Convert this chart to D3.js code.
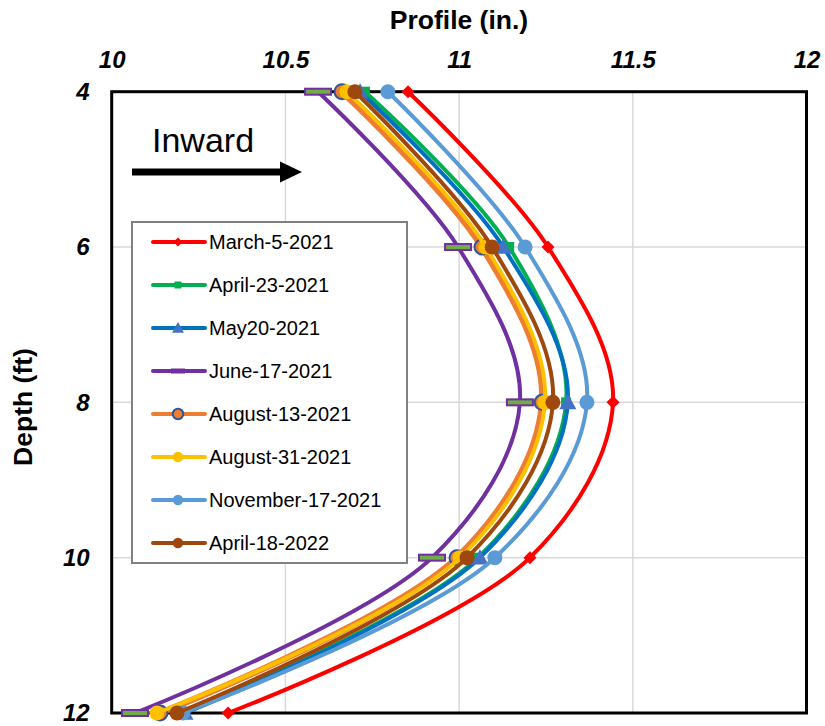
<!DOCTYPE html>
<html><head><meta charset="utf-8">
<script src="https://cdn.jsdelivr.net/npm/d3@7"></script>
<style>body{margin:0;background:#fff;} svg{display:block;}</style>
</head><body>
<svg id="c" width="825" height="726"></svg>
<script>
const depths = [4, 6, 8, 10, 12];
const seriesNames = ["March-5-2021","April-23-2021","May20-2021","June-17-2021","August-13-2021","August-31-2021","November-17-2021","April-18-2022"];
const march5 = [10.853, 11.256, 11.443, 11.204, 10.335];
const april23 = [10.729, 11.144, 11.308, 11.054, 10.202];
const may20 = [10.715, 11.127, 11.313, 11.060, 10.211];
const june17 = [10.594, 10.997, 11.175, 10.922, 10.067];
const aug13 = [10.663, 11.066, 11.239, 10.994, 10.139];
const aug31 = [10.677, 11.077, 11.247, 11.003, 10.130];
const nov17 = [10.795, 11.190, 11.368, 11.103, 10.205];
const april18 = [10.700, 11.095, 11.270, 11.023, 10.188];
const xTicks = [10, 10.5, 11, 11.5, 12];
const yTicks = [4, 6, 8, 10, 12];

const values = [march5, april23, may20, june17, aug13, aug31, nov17, april18];
const styles = [
  {line:"#FF0000", w:4, marker:"diamond", fill:"#FF0000", stroke:"none"},
  {line:"#00B050", w:4, marker:"square", fill:"#00B050", stroke:"none"},
  {line:"#0070C0", w:4, marker:"triangle", fill:"#4472C4", stroke:"none"},
  {line:"#7030A0", w:4, marker:"dash", fill:"#70AD47", stroke:"#7030A0"},
  {line:"#ED7D31", w:6.5, marker:"circle", fill:"#ED7D31", stroke:"#2F5597"},
  {line:"#FFC000", w:4, marker:"circle", fill:"#FFC000", stroke:"none"},
  {line:"#5B9BD5", w:4, marker:"circle", fill:"#5B9BD5", stroke:"none"},
  {line:"#9E480E", w:4, marker:"circle", fill:"#9E480E", stroke:"none"}
];

const svg = d3.select("#c");
const L = 111.7, R = 806.5, T = 91.7, B = 713;
const x = d3.scaleLinear().domain([10, 12]).range([L, R]);
const y = d3.scaleLinear().domain([4, 12]).range([T, B]);
const font = "'Liberation Sans', Arial, Helvetica, sans-serif";

// gridlines
svg.append("g").selectAll("line").data(xTicks.slice(1, -1)).join("line")
  .attr("x1", d => x(d)).attr("x2", d => x(d)).attr("y1", T).attr("y2", B)
  .attr("stroke", "#d9d9d9").attr("stroke-width", 1.5);
svg.append("g").selectAll("line").data(yTicks.slice(1, -1)).join("line")
  .attr("y1", d => y(d)).attr("y2", d => y(d)).attr("x1", L).attr("x2", R)
  .attr("stroke", "#d9d9d9").attr("stroke-width", 1.5);

// frame
svg.append("rect").attr("x", L).attr("y", T).attr("width", R - L).attr("height", B - T)
  .attr("fill", "none").attr("stroke", "#000").attr("stroke-width", 3);

// axes tick labels (d3 axes, domain hidden)
const xAxis = svg.append("g").attr("transform", `translate(0,${T})`)
  .call(d3.axisTop(x).tickValues(xTicks).tickSize(0).tickPadding(24).tickFormat(d3.format("")));
const yAxis = svg.append("g").attr("transform", `translate(${L},0)`)
  .call(d3.axisLeft(y).tickValues(yTicks).tickSize(0).tickPadding(22).tickFormat(d3.format("")));
[xAxis, yAxis].forEach(a => {
  a.select(".domain").remove();
  a.selectAll("text").attr("font-family", font).attr("font-size", 24)
    .attr("font-weight", "bold").attr("font-style", "italic").attr("fill", "#000");
});

// titles
svg.append("text").attr("x", 459).attr("y", 29).attr("text-anchor", "middle")
  .attr("font-family", font).attr("font-size", 26.5).attr("font-weight", "bold").text("Profile (in.)");
svg.append("text").attr("transform", "translate(32,407) rotate(-90)").attr("text-anchor", "middle")
  .attr("font-family", font).attr("font-size", 26.5).attr("font-weight", "bold").text("Depth (ft)");

// Inward arrow
svg.append("text").attr("x", 152).attr("y", 152).attr("font-family", font).attr("font-size", 34).text("Inward");
svg.append("line").attr("x1", 132).attr("x2", 282).attr("y1", 172).attr("y2", 172)
  .attr("stroke", "#000").attr("stroke-width", 7);
svg.append("path").attr("d", "M280,161.5 L302,172 L280,182.5 Z").attr("fill", "#000");

function drawMarker(g, s, cx, cy, scale) {
  const k = scale;
  if (s.marker === "diamond") {
    const r = 6.5 * k;
    g.append("path").attr("d", `M${cx},${cy - r}L${cx + r},${cy}L${cx},${cy + r}L${cx - r},${cy}Z`).attr("fill", s.fill);
  } else if (s.marker === "square") {
    const r = 5 * k;
    g.append("rect").attr("x", cx - r).attr("y", cy - r).attr("width", 2 * r).attr("height", 2 * r).attr("fill", s.fill);
  } else if (s.marker === "triangle") {
    const r = 8.5 * k;
    g.append("path").attr("d", `M${cx},${cy - r}L${cx + r},${cy + r * 0.8}L${cx - r},${cy + r * 0.8}Z`).attr("fill", s.fill);
  } else if (s.marker === "dash") {
    const w = 26 * k, h = 6 * k;
    g.append("rect").attr("x", cx - w / 2).attr("y", cy - h / 2).attr("width", w).attr("height", h)
      .attr("fill", s.fill).attr("stroke", s.stroke).attr("stroke-width", 2 * k);
  } else {
    g.append("circle").attr("cx", cx).attr("cy", cy).attr("r", 7.5 * k).attr("fill", s.fill)
      .attr("stroke", s.stroke).attr("stroke-width", s.stroke === "none" ? 0 : 2);
  }
}

const line = d3.line().x(d => x(d[0])).y(d => y(d[1])).curve(d3.curveCatmullRom.alpha(0.5));
values.forEach((vals, i) => {
  const s = styles[i];
  const pts = vals.map((v, j) => [v, depths[j]]);
  const g = svg.append("g");
  g.append("path").datum(pts).attr("d", line).attr("fill", "none")
    .attr("stroke", s.line).attr("stroke-width", s.w).attr("stroke-linecap", "round");
  pts.forEach(p => drawMarker(g, s, x(p[0]), y(p[1]), 1));
});

// legend
const lg = svg.append("g");
lg.append("rect").attr("x", 132).attr("y", 222).attr("width", 275).attr("height", 341)
  .attr("fill", "#fff").attr("stroke", "#808080").attr("stroke-width", 2);
seriesNames.forEach((name, i) => {
  const s = styles[i];
  const cy = 242 + i * 43;
  lg.append("line").attr("x1", 153).attr("x2", 205).attr("y1", cy).attr("y2", cy)
    .attr("stroke", s.line).attr("stroke-width", 4).attr("stroke-linecap", "round");
  if (s.marker === "dash") {
    lg.append("rect").attr("x", 171).attr("y", cy - 2.5).attr("width", 14).attr("height", 5).attr("fill", s.line);
  } else {
    drawMarker(lg, s, 178, cy, 0.7);
  }
  lg.append("text").attr("x", 209).attr("y", cy + 7).attr("font-family", font).attr("font-size", 20)
    .attr("fill", "#000").text(name);
});
</script>
</body></html>
